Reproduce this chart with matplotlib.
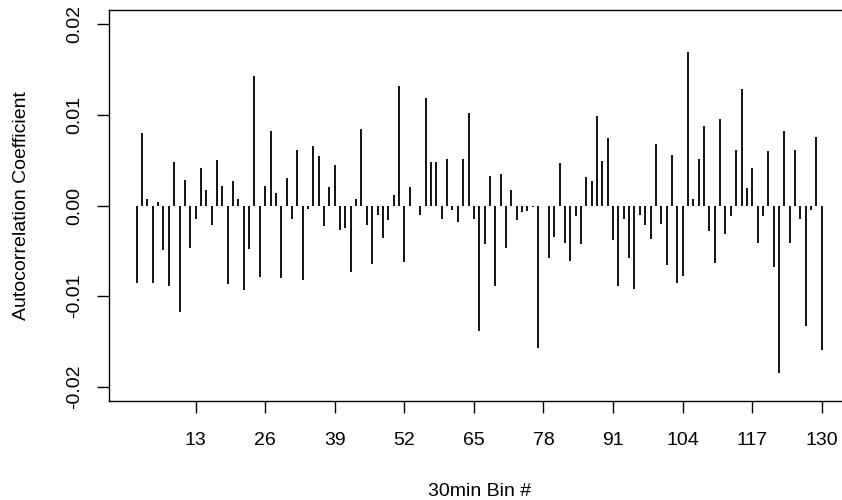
import matplotlib
matplotlib.use("Agg")
import matplotlib.pyplot as plt
import numpy as np

plt.rcParams['font.family'] = ['Liberation Sans', 'DejaVu Sans']

# Data: autocorrelation coefficients, lags 2..130
lags = list(range(2, 131))
acf = [
    -0.00853, 0.00806, 0.00073, -0.00853, 0.00037, -0.00495, -0.00890, 0.00484, -0.01180, 0.00286,
    -0.00465, -0.00150, 0.00414, 0.00172, -0.00216, 0.00498, 0.00220, -0.00872, 0.00267, 0.00073,
    -0.00938, -0.00480, 0.01429, -0.00791, 0.00220, 0.00824, 0.00136, -0.00806, 0.00300, -0.00147,
    0.00612, -0.00824, -0.00037, 0.00659, 0.00546, -0.00231, 0.00201, 0.00447, -0.00267, -0.00249,
    -0.00740, 0.00073, 0.00842, -0.00220, -0.00641, -0.00103, -0.00359, -0.00165, 0.00121, 0.01315,
    -0.00626, 0.00201, 0.00000, -0.00103, 0.01183, 0.00484, 0.00484, -0.00147, 0.00513, -0.00050,
    -0.00183, 0.00513, 0.01018, -0.00147, -0.01392, -0.00429, 0.00330, -0.00890, 0.00348, -0.00465,
    0.00172, -0.00165, -0.00073, -0.00066, -0.00020, -0.01575, 0.00000, -0.00579, -0.00348, 0.00465,
    -0.00414, -0.00608, -0.00117, -0.00429, 0.00319, 0.00267, 0.00989, 0.00495, 0.00744, -0.00377,
    -0.00890, -0.00147, -0.00579, -0.00919, -0.00103, -0.00220, -0.00366, 0.00678, -0.00201, -0.00652,
    0.00560, -0.00853, -0.00777, 0.01692, 0.00073, 0.00513, 0.00875, -0.00286, -0.00630, 0.00952,
    -0.00315, -0.00121, 0.00612, 0.01282, 0.00190, 0.00414, -0.00414, -0.00121, 0.00597, -0.00678,
    -0.01850, 0.00824, -0.00414, 0.00612, -0.00147, -0.01330, -0.00050, 0.00758, -0.01593,
]
xticks = [13, 26, 39, 52, 65, 78, 91, 104, 117, 130]
yticks = [-0.02, -0.01, 0.00, 0.01, 0.02]
ytick_labels = ["-0.02", "-0.01", "0.00", "0.01", "0.02"]

W, H = 842, 500
fig = plt.figure(figsize=(W / 100, H / 100), dpi=100)
left_px, right_px, top_px, bot_px = 109.3, 849.2, 10.0, 401.0
ax = fig.add_axes([left_px / W, 1 - bot_px / H, (right_px - left_px) / W, (bot_px - top_px) / H])

ax.vlines(lags, 0, acf, colors='black', linewidth=1.3)

ax.set_xlim(-3.12, 135.12)
ax.set_ylim(-0.0216, 0.0216)

for s in ax.spines.values():
    s.set_linewidth(1.0)
    s.set_color('black')

fs = 14
ax.set_xticks(xticks)
ax.set_xticklabels([str(t) for t in xticks], fontsize=fs)
ax.set_yticks(yticks)
ax.set_yticklabels(ytick_labels, fontsize=fs, rotation=90, va='center')
ax.tick_params(axis='both', direction='out', length=8.6, width=1.0, color='black')
ax.tick_params(axis='x', pad=14)
ax.tick_params(axis='y', pad=10)

ax.set_xlabel("30min Bin #", fontsize=fs, va='center')
ax.xaxis.set_label_coords(0.5, (H - 491.7 - (H - bot_px)) / (bot_px - top_px))
ax.set_ylabel("Autocorrelation Coefficient", fontsize=fs, va='center')
ax.yaxis.set_label_coords((21.0 - left_px) / (right_px - left_px), 0.5)

fig.savefig("out.png", dpi=100)
